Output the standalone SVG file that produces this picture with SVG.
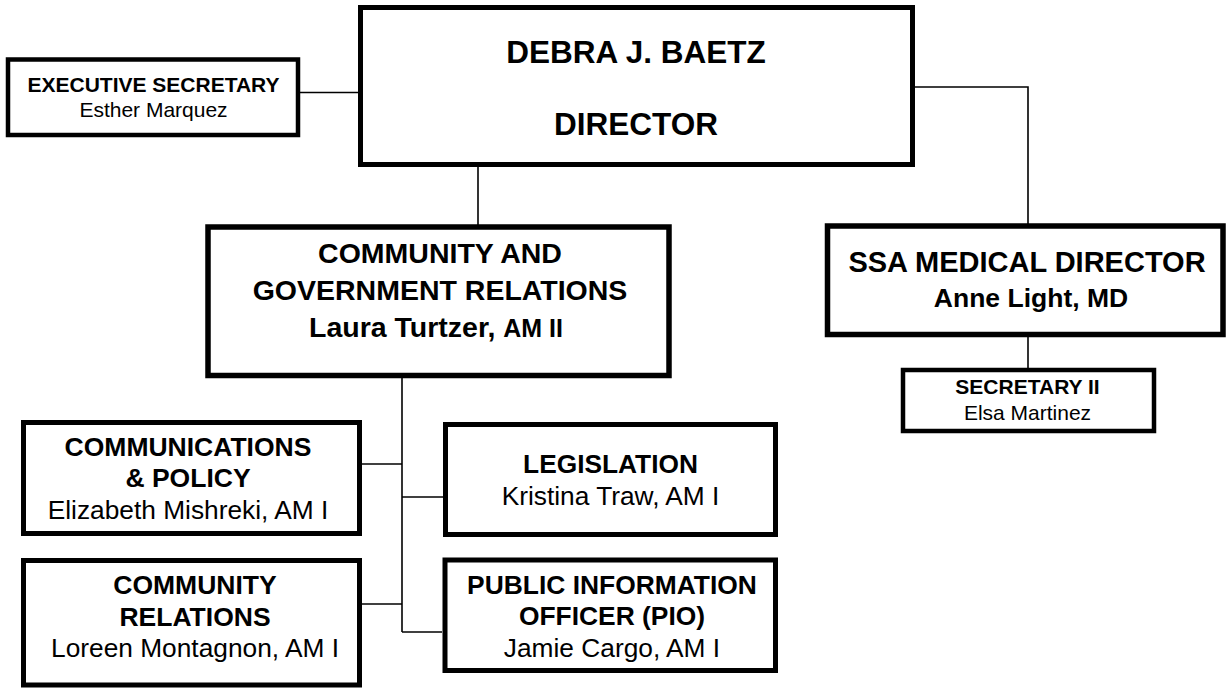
<svg xmlns="http://www.w3.org/2000/svg" width="1226" height="688" viewBox="0 0 1226 688">
<style>
.box{fill:#fff;stroke:#000;stroke-linejoin:miter}
.t{font-family:"Liberation Sans",Arial,sans-serif;fill:#000;text-anchor:middle}
.b{font-weight:bold}
.conn{fill:none;stroke:#000;stroke-width:1.6}
</style>
<rect width="1226" height="688" fill="#fff"/>
<g id="connectors">
<line class="conn" x1="300" y1="92.5" x2="358" y2="92.5"/>
<polyline class="conn" points="915,87 1028,87 1028,224"/>
<line class="conn" x1="478" y1="167" x2="478" y2="225"/>
<line class="conn" x1="1028" y1="337" x2="1028" y2="368"/>
<line class="conn" x1="402" y1="378" x2="402" y2="632"/>
<line class="conn" x1="362" y1="464" x2="402" y2="464"/>
<line class="conn" x1="362" y1="604" x2="402" y2="604"/>
<line class="conn" x1="402" y1="497" x2="443" y2="497"/>
<line class="conn" x1="402" y1="632" x2="442" y2="632"/>
</g>
<g id="exec-secretary">
<rect class="box" x="8" y="59.5" width="290" height="75.5" stroke-width="4.5"/>
<text class="t b" x="153.5" y="92" font-size="21">EXECUTIVE SECRETARY</text>
<text class="t" x="153.5" y="117" font-size="21">Esther Marquez</text>
</g>
<g id="director">
<rect class="box" x="360.5" y="7.5" width="552" height="157" stroke-width="5"/>
<text class="t b" x="636" y="63" font-size="31.5">DEBRA J. BAETZ</text>
<text class="t b" x="636" y="135" font-size="31.5">DIRECTOR</text>
</g>
<g id="community-government">
<rect class="box" x="208" y="227" width="461" height="148.5" stroke-width="5.5"/>
<text class="t b" x="440" y="263" font-size="28.5">COMMUNITY AND</text>
<text class="t b" x="440" y="300" font-size="28.5">GOVERNMENT RELATIONS</text>
<text class="t b" x="436" y="337" font-size="28.5">Laura Turtzer, <tspan font-size="25">AM II</tspan></text>
</g>
<g id="ssa-medical-director">
<rect class="box" x="827.5" y="226" width="395.5" height="108.5" stroke-width="5.5"/>
<text class="t b" x="1027" y="272" font-size="29">SSA MEDICAL DIRECTOR</text>
<text class="t b" x="1031" y="307" font-size="26.5">Anne Light, MD</text>
</g>
<g id="secretary-ii">
<rect class="box" x="903" y="370" width="251" height="61" stroke-width="4.5"/>
<text class="t b" x="1027.5" y="394" font-size="21">SECRETARY II</text>
<text class="t" x="1027.5" y="420" font-size="21">Elsa Martinez</text>
</g>
<g id="communications-policy">
<rect class="box" x="23.5" y="422.5" width="336" height="111" stroke-width="5"/>
<text class="t b" x="188" y="456" font-size="26.5">COMMUNICATIONS</text>
<text class="t b" x="188" y="487" font-size="26.5">&amp; POLICY</text>
<text class="t" x="188" y="519" font-size="26.3">Elizabeth Mishreki, AM I</text>
</g>
<g id="community-relations">
<rect class="box" x="23.5" y="560.5" width="336" height="124.5" stroke-width="5"/>
<text class="t b" x="195" y="594" font-size="26.5">COMMUNITY</text>
<text class="t b" x="195" y="626" font-size="26.5">RELATIONS</text>
<text class="t" x="195" y="657" font-size="26.3">Loreen Montagnon, AM I</text>
</g>
<g id="legislation">
<rect class="box" x="445.5" y="424.5" width="330" height="110" stroke-width="5"/>
<text class="t b" x="610.5" y="473" font-size="26.3">LEGISLATION</text>
<text class="t" x="610.5" y="505" font-size="26.3">Kristina Traw, AM I</text>
</g>
<g id="pio">
<rect class="box" x="445" y="560" width="330.5" height="110.5" stroke-width="5"/>
<text class="t b" x="612" y="594" font-size="26.4">PUBLIC INFORMATION</text>
<text class="t b" x="612" y="625" font-size="26.4">OFFICER (PIO)</text>
<text class="t" x="612" y="657" font-size="26.3">Jamie Cargo, AM I</text>
</g>
</svg>
